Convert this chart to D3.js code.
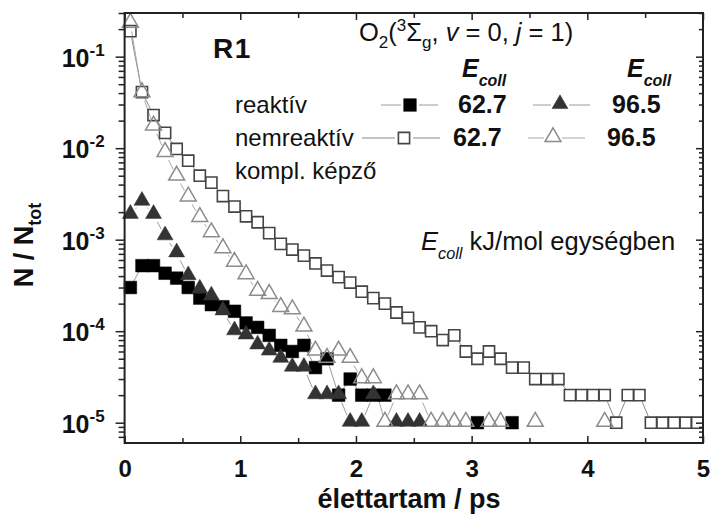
<!DOCTYPE html>
<html><head><meta charset="utf-8">
<script src="https://cdn.jsdelivr.net/npm/d3@7"></script>
<style>
body{margin:0;background:#fff}
svg{display:block}
text{font-family:"Liberation Sans",Arial,Helvetica,sans-serif;fill:#111}
</style>
</head><body>
<svg id="chart" width="712" height="518"></svg>
<script>
// ---------- data ----------
const times = [0.05,0.15,0.25,0.35,0.45,0.55,0.65,0.75,0.85,0.95,
               1.05,1.15,1.25,1.35,1.45,1.55,1.65,1.75,1.85,1.95,
               2.05,2.15,2.25,2.35,2.45,2.55,2.65,2.75,2.85,2.95,
               3.05,3.15,3.25,3.35,3.45,3.55,3.65,3.75,3.85,3.95,
               4.05,4.15,4.25,4.35,4.45,4.55,4.65,4.75,4.85,4.95];

// nemreaktív, Ecoll = 62.7 (open squares)
const nonreactive627 = [0.19,0.041,0.023,0.0147,0.0098,0.0073,0.0050,0.0042,0.0030,0.0023,
  0.0018,0.00155,0.00118,0.00090,0.00078,0.00067,0.00055,0.00046,0.00039,0.00034,
  0.00027,0.00023,0.00020,0.00016,0.00014,0.00011,0.00010,0.00008,0.00009,0.00006,
  0.00005,0.00006,0.00005,0.00004,0.00004,0.00003,0.00003,0.00003,0.00002,0.00002,
  0.00002,0.00002,0.00001,0.00002,0.00002,0.00001,0.00001,0.00001,0.00001,0.00001];

// nemreaktív, Ecoll = 96.5 (open triangles)
const nonreactive965 = [0.23,0.040,0.0173,0.0089,0.0049,0.0029,0.00173,0.00118,0.00079,0.00056,
  0.00041,0.00027,0.00025,0.00018,0.00017,0.00011,0.00006,0.00005,0.00006,0.00005,
  0.00003,0.00003,0.00001,0.00002,0.00002,0.00002,0.00001,0.00001,0.00001,0.00001,
  null,0.00001,0.00001,null,null,0.00001,null,null,null,null,
  null,0.00001,null,null,null,null,null,null,null,null];

// reaktív, Ecoll = 62.7 (filled squares)
const reactive627 = [0.00030,0.00052,0.00052,0.00043,0.00038,0.00030,0.00023,0.000195,0.000185,0.000165,
  0.000123,0.00011,0.00009,0.00007,0.00006,0.00007,0.00004,0.00005,0.00002,0.00003,
  0.00002,0.00002,0.00002,null,null,null,null,null,null,null,
  0.00001,null,null,0.00001,null,null,null,null,null,null,
  null,null,null,null,null,null,null,null,null,null];

// reaktív, Ecoll = 96.5 (filled triangles)
const reactive965 = [0.00187,0.0026,0.00187,0.00109,0.00071,0.00040,0.000285,0.00024,0.000165,0.00010,
  0.00009,0.00007,0.00006,0.00005,0.00004,0.00004,0.00002,0.00002,0.00002,0.00001,
  0.00001,0.00002,null,0.00001,0.00001,0.00001,null,null,null,null,
  null,null,null,null,null,null,null,null,null,null,
  null,null,null,null,null,null,null,null,null,null];

const xTicks = [0,1,2,3,4,5];
const xMinorTicks = [0.5,1.5,2.5,3.5,4.5];
const yTickExponents = [-1,-2,-3,-4,-5];
const legendEnergies = ["62.7","96.5"];

// ---------- layout ----------
const svg = d3.select("#chart");
const L = 124.6, R = 703, T = 13, B = 443;
const x = d3.scaleLinear().domain([0,5]).range([L,R]);
const y = d3.scaleLog().domain([6e-6,0.3]).range([B,T]);

const yMajor = yTickExponents.map(e => Math.pow(10,e));
const yMinor = [];
for (let e = -6; e <= -1; e++) for (let m = 2; m <= 9; m++) {
  const v = m*Math.pow(10,e);
  if (v > 6e-6*1.001 && v < 0.3*1.001) yMinor.push(v);
}

// ---------- series ----------
const series = [
  {vals: nonreactive627, sym: d3.symbolSquare, size: 125, fill: "none", stroke: "#444", sw: 1.6, line: "#8a8a8a", trim: 7},
  {vals: reactive627, sym: d3.symbolSquare, size: 160, fill: "#000", stroke: "#000", sw: 0.5, line: "#9a9a9a", trim: 7},
  {vals: reactive965, sym: d3.symbolTriangle, size: 110, fill: "#333", stroke: "#333", sw: 0.5, line: "#9a9a9a", trim: 8},
  {vals: nonreactive965, sym: d3.symbolTriangle, size: 110, fill: "none", stroke: "#8c8c8c", sw: 1.5, line: "#a8a8a8", trim: 8}
];

const gPlot = svg.append("g");
series.forEach(s => {
  const pts = times.map((t,i) => ({t, v: s.vals[i]}));
  // connecting segments with gaps at the symbols
  for (let i = 0; i < pts.length-1; i++) {
    const a = pts[i], b = pts[i+1];
    if (a.v == null || b.v == null) continue;
    const x1 = x(a.t), y1 = y(a.v), x2 = x(b.t), y2 = y(b.v);
    const len = Math.hypot(x2-x1, y2-y1);
    if (len <= 2*s.trim) continue;
    const ux = (x2-x1)/len, uy = (y2-y1)/len;
    gPlot.append("line")
      .attr("x1", x1+ux*s.trim).attr("y1", y1+uy*s.trim)
      .attr("x2", x2-ux*s.trim).attr("y2", y2-uy*s.trim)
      .attr("stroke", s.line).attr("stroke-width", 1);
  }
});
series.forEach(s => {
  const pts = times.map((t,i) => ({t, v: s.vals[i]})).filter(d => d.v != null);
  gPlot.selectAll(null).data(pts).enter().append("path")
    .attr("d", d3.symbol(s.sym, s.size))
    .attr("transform", d => `translate(${x(d.t)},${y(d.v)+(s.sym===d3.symbolTriangle?-1:0)})`)
    .attr("fill", s.fill).attr("stroke", s.stroke).attr("stroke-width", s.sw);
});

// ---------- axes ----------
const axisColor = "#222";
function styleAxis(g){ g.select(".domain").remove(); g.selectAll(".tick line").attr("stroke",axisColor).attr("stroke-width",1.5); }

// bottom (inward ticks)
svg.append("g").attr("transform",`translate(0,${B})`)
  .call(d3.axisBottom(x).tickValues(xTicks).tickSize(-7).tickPadding(17).tickFormat(d3.format("d")))
  .call(styleAxis)
  .call(g => g.selectAll("text").attr("font-size",24).attr("font-weight","bold").attr("fill","#111")
     .attr("font-family",'"Liberation Sans",Arial,sans-serif'));
svg.append("g").attr("transform",`translate(0,${B})`)
  .call(d3.axisBottom(x).tickValues(xMinorTicks).tickSize(-5).tickFormat(""))
  .call(styleAxis);
// top (inward)
svg.append("g").attr("transform",`translate(0,${T})`)
  .call(d3.axisTop(x).tickValues(xTicks).tickSize(-7).tickFormat(""))
  .call(styleAxis);
svg.append("g").attr("transform",`translate(0,${T})`)
  .call(d3.axisTop(x).tickValues(xMinorTicks).tickSize(-5).tickFormat(""))
  .call(styleAxis);
// left (outward)
const leftAxis = svg.append("g").attr("transform",`translate(${L},0)`)
  .call(d3.axisLeft(y).tickValues(yMajor).tickSize(9).tickPadding(11).tickFormat(""))
  .call(styleAxis);
leftAxis.selectAll(".tick text").each(function(d){
  const t = d3.select(this).text(null)
    .attr("font-size",25).attr("font-weight","bold").attr("fill","#111")
    .attr("font-family",'"Liberation Sans",Arial,sans-serif').attr("dy","0.38em");
  t.append("tspan").text("10");
  t.append("tspan").attr("font-size",17).attr("dy",-11).text(String(Math.round(Math.log10(d))));
});
svg.append("g").attr("transform",`translate(${L},0)`)
  .call(d3.axisLeft(y).tickValues(yMinor).tickSize(6).tickFormat(""))
  .call(styleAxis);
// right (inward)
svg.append("g").attr("transform",`translate(${R},0)`)
  .call(d3.axisRight(y).tickValues(yMajor).tickSize(-7).tickFormat(""))
  .call(styleAxis);
svg.append("g").attr("transform",`translate(${R},0)`)
  .call(d3.axisRight(y).tickValues(yMinor).tickSize(-4).tickFormat(""))
  .call(styleAxis);

// frame
svg.append("rect").attr("x",L).attr("y",T).attr("width",R-L).attr("height",B-T)
  .attr("fill","none").attr("stroke",axisColor).attr("stroke-width",2);

// axis titles
svg.append("text").attr("x",409).attr("y",508).attr("text-anchor","middle")
  .attr("font-size",27).attr("font-weight","bold").text("élettartam / ps");
const yt = svg.append("text").attr("transform","translate(33,245) rotate(-90)")
  .attr("text-anchor","middle").attr("font-size",27).attr("font-weight","bold");
yt.append("tspan").text("N / N");
yt.append("tspan").attr("font-size",18).attr("dy",8).text("tot");

// ---------- annotations / legend ----------
svg.append("text").attr("x",213).attr("y",58).attr("font-size",28).attr("font-weight","bold")
  .attr("letter-spacing",1.5).text("R1");

const st = svg.append("text").attr("x",359).attr("y",41).attr("font-size",25.5);
st.append("tspan").text("O");
st.append("tspan").attr("font-size",17).attr("dy",7).text("2");
st.append("tspan").attr("dy",-7).text("(");
st.append("tspan").attr("font-size",17).attr("dy",-10).text("3");
st.append("tspan").attr("dy",10).text("Σ");
st.append("tspan").attr("font-size",17).attr("dy",7).text("g");
st.append("tspan").attr("dy",-7).text(", ");
st.append("tspan").attr("font-style","italic").text("v");
st.append("tspan").text(" = 0, ");
st.append("tspan").attr("font-style","italic").text("j");
st.append("tspan").text(" = 1)");

function ecoll(xp, yp, bold, fs){
  const t = svg.append("text").attr("x",xp).attr("y",yp).attr("font-size",fs)
    .attr("font-style","italic").attr("font-weight", bold ? "bold" : "normal");
  t.append("tspan").text("E");
  t.append("tspan").attr("font-size",fs*0.64).attr("dy",9).text("coll");
  return t;
}
ecoll(462,77,true,25);
ecoll(627,77,true,25);

const rowLabels = ["reaktív","nemreaktív","kompl. képző"];
const rowY = [113,146,179];
rowLabels.forEach((lab,i) => svg.append("text").attr("x",235).attr("y",rowY[i]).attr("font-size",24).text(lab));

// legend entries
const legendEntries = [
  {row:0, cx:410, x1:381, x2:438, s:series[1], lx:458, lab:legendEnergies[0]},
  {row:0, cx:560, x1:533, x2:590, s:series[2], lx:612, lab:legendEnergies[1]},
  {row:1, cx:404, x1:362, x2:440, s:series[0], lx:453, lab:legendEnergies[0]},
  {row:1, cx:553, x1:528, x2:585, s:series[3], lx:607, lab:legendEnergies[1]}
];
legendEntries.forEach(e => {
  const yy = rowY[e.row]-8;
  svg.append("line").attr("x1",e.x1).attr("x2",e.cx-9).attr("y1",yy).attr("y2",yy)
    .attr("stroke",e.s.line).attr("stroke-width",1);
  svg.append("line").attr("x1",e.cx+9).attr("x2",e.x2).attr("y1",yy).attr("y2",yy)
    .attr("stroke",e.s.line).attr("stroke-width",1);
  svg.append("path").attr("d",d3.symbol(e.s.sym,e.s.size)).attr("transform",`translate(${e.cx},${yy-(e.s.sym===d3.symbolTriangle?1:0)})`)
    .attr("fill",e.s.fill).attr("stroke",e.s.stroke).attr("stroke-width",e.s.sw);
  svg.append("text").attr("x",e.lx).attr("y",rowY[e.row]).attr("font-size",25).attr("font-weight","bold").text(e.lab);
});

const note = ecoll(421,250,false,25.5);
note.append("tspan").attr("dy",-9).attr("font-style","normal").text(" kJ/mol egységben");
</script>
</body></html>
